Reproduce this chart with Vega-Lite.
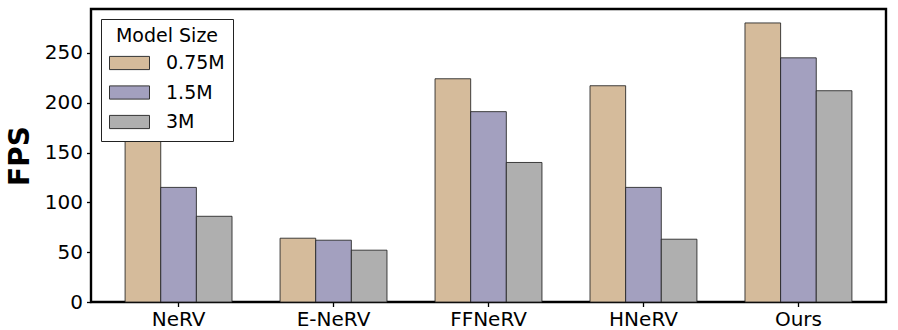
{
  "$schema": "https://vega.github.io/schema/vega-lite/v6.json",
  "width": 795,
  "height": 293,
  "padding": {"left": 6, "top": 9, "right": 10, "bottom": 0},
  "background": "white",
  "config": {
    "font": "DejaVu Sans",
    "view": {"stroke": "black", "strokeWidth": 2.4},
    "axis": {"domain": false, "grid": false, "tickColor": "black", "tickSize": 4.5, "tickWidth": 1.3, "labelColor": "black", "labelFontSize": 20, "labelFont": "DejaVu Sans"}
  },
  "data": {
    "values": [
      {"method": "NeRV", "size": "0.75M", "fps": 188},
      {"method": "NeRV", "size": "1.5M", "fps": 115},
      {"method": "NeRV", "size": "3M", "fps": 86},
      {"method": "E-NeRV", "size": "0.75M", "fps": 64},
      {"method": "E-NeRV", "size": "1.5M", "fps": 62},
      {"method": "E-NeRV", "size": "3M", "fps": 52},
      {"method": "FFNeRV", "size": "0.75M", "fps": 224},
      {"method": "FFNeRV", "size": "1.5M", "fps": 191},
      {"method": "FFNeRV", "size": "3M", "fps": 140},
      {"method": "HNeRV", "size": "0.75M", "fps": 217},
      {"method": "HNeRV", "size": "1.5M", "fps": 115},
      {"method": "HNeRV", "size": "3M", "fps": 63},
      {"method": "Ours", "size": "0.75M", "fps": 280},
      {"method": "Ours", "size": "1.5M", "fps": 245},
      {"method": "Ours", "size": "3M", "fps": 212}
    ]
  },
  "mark": {"type": "bar", "stroke": "#222222", "strokeWidth": 1, "strokeOpacity": 0.85},
  "encoding": {
    "x": {
      "field": "method", "type": "nominal", "sort": null, "title": null,
      "scale": {"paddingInner": 0.31, "paddingOuter": 0.22},
      "axis": {"labelAngle": 0, "labelPadding": 3}
    },
    "xOffset": {"field": "size", "type": "nominal", "sort": null, "scale": {"paddingInner": 0, "paddingOuter": 0}},
    "y": {
      "field": "fps", "type": "quantitative", "title": "FPS",
      "scale": {"domain": [0, 294], "nice": false},
      "axis": {"values": [0, 50, 100, 150, 200, 250], "titleFontSize": 28, "titleFontWeight": "bold", "titleColor": "black", "titlePadding": 10, "labelPadding": 4}
    },
    "fill": {
      "field": "size", "type": "nominal", "sort": null,
      "scale": {"domain": ["0.75M", "1.5M", "3M"], "range": ["#D5BB9B", "#A3A0BF", "#AFAFAF"]},
      "legend": {
        "title": "Model Size",
        "orient": "none", "legendX": 10, "legendY": 10,
        "fillColor": "white", "strokeColor": "#222222", "cornerRadius": 0,
        "padding": 8,
        "titleFontSize": 19, "titleFontWeight": "normal", "titleColor": "black", "titleAnchor": "middle", "titlePadding": 6,
        "labelFontSize": 19, "labelColor": "black", "labelOffset": 16,
        "symbolType": "M-1,-0.33H1V0.33H-1Z", "symbolSize": 1600, "symbolStrokeColor": "#333333", "symbolStrokeWidth": 1,
        "clipHeight": 22, "rowPadding": 7.5
      }
    }
  }
}
